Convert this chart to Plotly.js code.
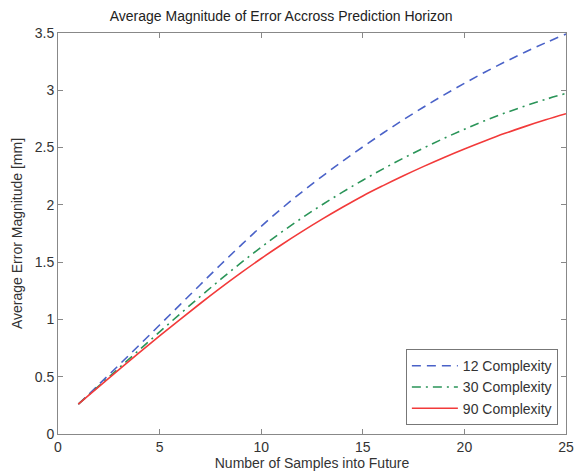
<!DOCTYPE html>
<html>
<head>
<meta charset="utf-8">
<script src="https://cdn.plot.ly/plotly-3.0.1.min.js"></script>
<style>html,body{margin:0;padding:0;background:#fff;}#chart{width:575px;height:474px;}</style>
</head>
<body>
<div id="chart"></div>
<script>
const samples = [1,2,3,4,5,6,7,8,9,10,11,12,13,14,15,16,17,18,19,20,21,22,23,24,25];
const complexity12 = [0.26,0.43,0.602,0.776,0.951,1.127,1.303,1.477,1.647,1.812,1.967,2.112,2.249,2.380,2.506,2.627,2.743,2.854,2.960,3.061,3.157,3.248,3.334,3.415,3.491];
const complexity30 = [0.26,0.418,0.576,0.734,0.891,1.047,1.200,1.349,1.493,1.631,1.762,1.885,2.001,2.111,2.215,2.314,2.408,2.497,2.581,2.660,2.734,2.802,2.864,2.921,2.973];
const complexity90 = [0.26,0.412,0.562,0.71,0.856,0.999,1.139,1.275,1.406,1.532,1.652,1.766,1.875,1.979,2.078,2.168,2.254,2.336,2.414,2.488,2.558,2.624,2.685,2.742,2.795];
const seriesNames = ['12 Complexity','30 Complexity','90 Complexity'];

const font = {family: 'Liberation Sans, Arial, sans-serif', size: 14, color: '#333'};
const traces = [
  {x: samples, y: complexity12, name: seriesNames[0], mode: 'lines', line: {color: '#4a62c8', width: 1.6, dash: '9px,6px', shape: 'spline'}},
  {x: samples, y: complexity30, name: seriesNames[1], mode: 'lines', line: {color: '#2a9458', width: 1.6, dash: '9px,5px,2px,5px', shape: 'spline'}},
  {x: samples, y: complexity90, name: seriesNames[2], mode: 'lines', line: {color: '#f23a3a', width: 1.6, shape: 'spline'}}
];
const axisCommon = {
  showgrid: false, zeroline: false, showline: true, linecolor: '#888', linewidth: 1,
  mirror: 'ticks', ticks: 'inside', ticklen: 5, tickcolor: '#888', tickfont: font
};
const layout = {
  width: 575, height: 474,
  margin: {l: 58, r: 9, t: 33, b: 40},
  paper_bgcolor: '#fff', plot_bgcolor: '#fff',
  font: font,
  title: {text: 'Average Magnitude of Error Accross Prediction Horizon', font: {family: font.family, size: 14, color: '#222'}, x: 0.489, xanchor: 'center', y: 0.965, yanchor: 'middle'},
  xaxis: Object.assign({}, axisCommon, {range: [0, 25], tickvals: [0,5,10,15,20,25], title: {text: 'Number of Samples into Future', font: font, standoff: 3}}),
  yaxis: Object.assign({}, axisCommon, {range: [0, 3.5], tickvals: [0,0.5,1,1.5,2,2.5,3,3.5], title: {text: 'Average Error Magnitude [mm]', font: font, standoff: 8}}),
  showlegend: true,
  legend: {x: 0.984, y: 0.022, xanchor: 'right', yanchor: 'bottom', bgcolor: '#fff', bordercolor: '#777', borderwidth: 1, font: font, tracegroupgap: 0, itemwidth: 46}
};
Plotly.newPlot('chart', traces, layout, {staticPlot: true, displayModeBar: false});
</script>
</body>
</html>
